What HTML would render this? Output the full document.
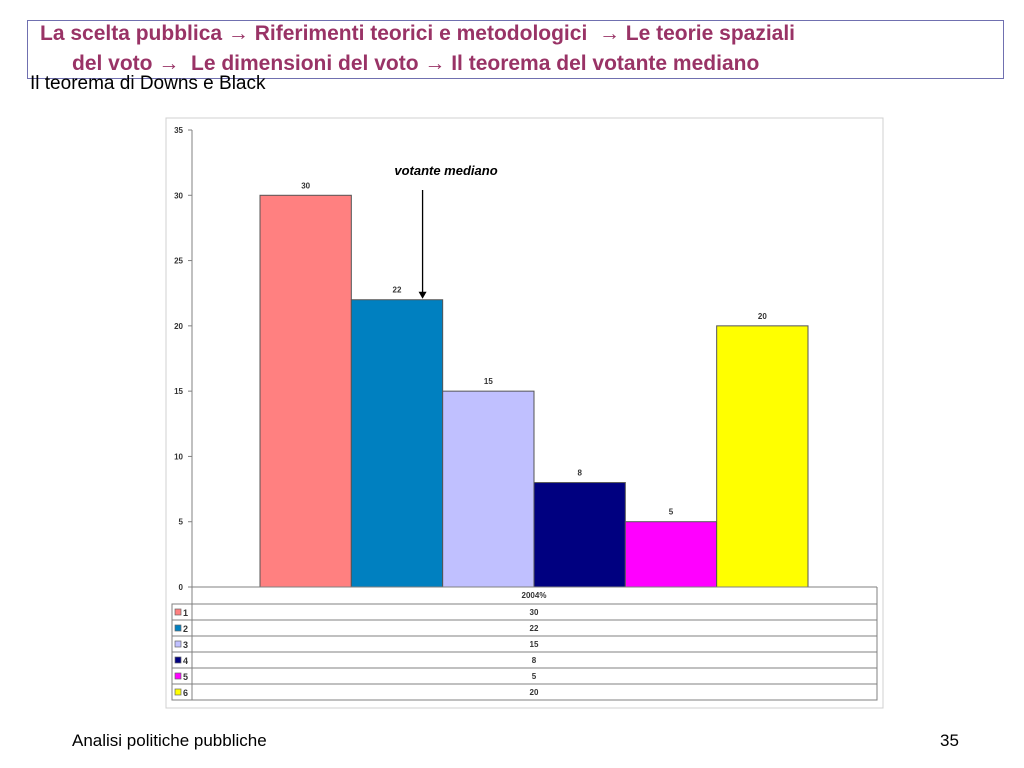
<!DOCTYPE html>
<html><head><meta charset="utf-8">
<style>
body{margin:0;width:1024px;height:768px;background:#fff;position:relative;overflow:hidden;font-family:"Liberation Sans",Arial,sans-serif}
.t{position:absolute;white-space:nowrap}
</style></head><body>
<div style="position:absolute;left:27px;top:20px;width:975px;height:57px;border:1px solid #7070b0"></div>
<div class="t" style="left:40px;top:22px;font-size:21px;font-weight:bold;color:#993366">La scelta pubblica → Riferimenti teorici e metodologici &nbsp;→ Le teorie spaziali</div>
<div class="t" style="left:72px;top:52px;font-size:21px;font-weight:bold;color:#993366">del voto → &nbsp;Le dimensioni del voto → Il teorema del votante mediano</div>
<div class="t" style="left:30px;top:73px;font-size:19px;color:#000">Il teorema di Downs e Black</div>
<div class="t" style="left:72px;top:731px;font-size:17px">Analisi politiche pubbliche</div>
<div class="t" style="left:940px;top:731px;font-size:17px">35</div>
<svg id="chart" width="1024" height="768" style="position:absolute;left:0;top:0" font-family="Liberation Sans, Arial, sans-serif"></svg>
<script>
const categories=["1","2","3","4","5","6"];
const values=[30,22,15,8,5,20];
const colors=["#ff8080","#0080c0","#c0c0ff","#000080","#ff00ff","#ffff00"];
const yTicks=[0,5,10,15,20,25,30,35];
const seriesLabel="2004%";
const svg=document.getElementById('chart');
const NS="http://www.w3.org/2000/svg";
function el(t,a,p){const e=document.createElementNS(NS,t);for(const k in a)e.setAttribute(k,a[k]);(p||svg).appendChild(e);return e;}
const y0=587,y1=130,yMax=35;
const yS=v=>y0-(y0-y1)*v/yMax;
const bx0=260,bw=(808-260)/values.length;
const xS=i=>bx0+i*bw;
let f=el('rect',{x:166,y:118,width:717,height:590,fill:'#fff',stroke:'#d0d0d0'});

let ax=el('line',{x1:192,y1:y1,x2:192,y2:y0,stroke:'#808080'});

yTicks.forEach(v=>{
 let tk=el('line',{x1:188,y1:yS(v),x2:192,y2:yS(v),stroke:'#808080'});
 
 let tx=el('text',{x:183,y:yS(v)+3,'font-size':8,'font-weight':'bold','text-anchor':'end',fill:'#333'});tx.textContent=v;
 
});
values.forEach((v,i)=>{
 let r=el('rect',{x:xS(i),y:yS(v),width:bw,height:y0-yS(v),fill:colors[i],stroke:'#555','stroke-width':1});
 
 let t=el('text',{x:xS(i)+bw/2,y:yS(v)-7,'font-size':8,'font-weight':'bold','text-anchor':'middle',fill:'#333'});t.textContent=v;
 
});
let base=el('line',{x1:192,y1:y0,x2:877,y2:y0,stroke:'#808080'});

// data table
const rowH=16,tTop=604;
let hd=el('text',{x:534,y:598,'font-size':8,'font-weight':'bold','text-anchor':'middle',fill:'#333'});hd.textContent=seriesLabel;

el('line',{x1:192,y1:y0,x2:192,y2:tTop+rowH*values.length,stroke:'#808080'});
el('line',{x1:877,y1:y0,x2:877,y2:tTop+rowH*values.length,stroke:'#808080'});
values.forEach((v,i)=>{
 const ry=tTop+i*rowH;
 let r=el('rect',{x:172,y:ry,width:705,height:rowH,fill:'none',stroke:'#808080'});
 
 let sw=el('rect',{x:175,y:ry+5,width:6,height:6,fill:colors[i],stroke:'#666','stroke-width':0.7});
 
 let lb=el('text',{x:183,y:ry+12,'font-size':9,'font-weight':'bold',fill:'#333'});lb.textContent=categories[i];
 
 let vt=el('text',{x:534,y:ry+11,'font-size':8,'font-weight':'bold','text-anchor':'middle',fill:'#333'});vt.textContent=v;
 
});
// annotation
let an=el('text',{x:446,y:175,'font-size':13,'font-weight':'bold','font-style':'italic','text-anchor':'middle'});an.textContent='votante mediano';

const ax2=xS(1)+bw*0.78;
let ar=el('line',{x1:ax2,y1:190,x2:ax2,y2:yS(values[1])-6,stroke:'#000','stroke-width':1.3});

let ah=el('polygon',{points:`${ax2-4},${yS(values[1])-8} ${ax2+4},${yS(values[1])-8} ${ax2},${yS(values[1])-1}`,fill:'#000'});

</script>
</body></html>
